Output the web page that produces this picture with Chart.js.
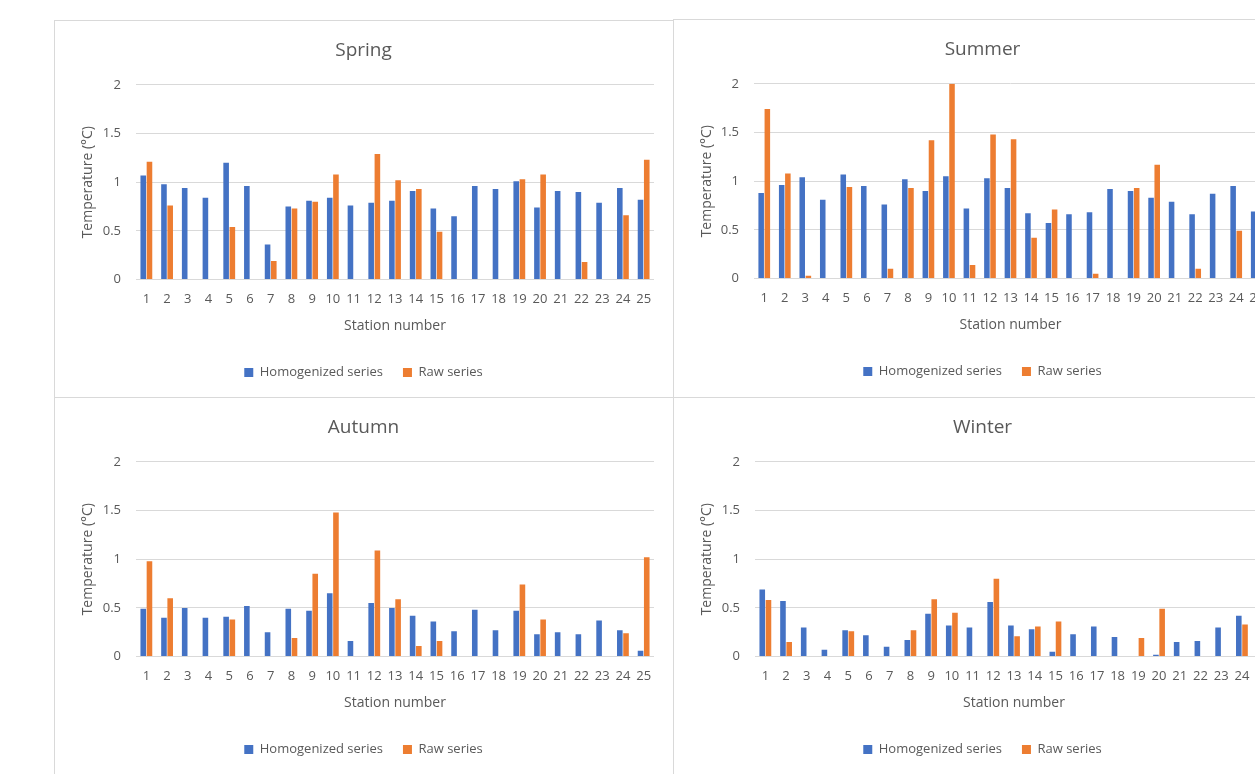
<!DOCTYPE html>
<html>
<head>
<meta charset="utf-8">
<script src="https://cdn.jsdelivr.net/npm/chart.js@4"></script>
<style>
  html, body { margin: 0; padding: 0; background: #fff; }
  body { width: 1255px; height: 774px; overflow: hidden; position: relative; }
  .panel { position: absolute; width: 619px; height: 377px; border: 1px solid #d9d9d9; background: #fff; }
  .panel canvas { display: block; }
</style>
</head>
<body>
<div class="panel" style="left:54px; top:20px;"><canvas id="spring-chart" width="617" height="375"></canvas></div>
<div class="panel" style="left:673px; top:19px;"><canvas id="summer-chart" width="617" height="375"></canvas></div>
<div class="panel" style="left:54px; top:397px;"><canvas id="autumn-chart" width="617" height="375"></canvas></div>
<div class="panel" style="left:673px; top:397px;"><canvas id="winter-chart" width="617" height="375"></canvas></div>
<script>
// Station labels and y ticks
let stations = ["1","2","3","4","5","6","7","8","9","10","11","12","13","14","15","16","17","18","19","20","21","22","23","24","25"];
let yTicks = [0, 0.5, 1, 1.5, 2];

// Spring
let springHomog = [1.07,0.98,0.94,0.84,1.20,0.96,0.36,0.75,0.81,0.84,0.76,0.79,0.81,0.91,0.73,0.65,0.96,0.93,1.01,0.74,0.91,0.90,0.79,0.94,0.82];
let springRaw   = [1.21,0.76,0,0,0.54,0,0.19,0.73,0.80,1.08,0,1.29,1.02,0.93,0.49,0,0,0,1.03,1.08,0,0.18,0,0.66,1.23];

// Summer
let summerHomog = [0.88,0.96,1.04,0.81,1.07,0.95,0.76,1.02,0.90,1.05,0.72,1.03,0.93,0.67,0.57,0.66,0.68,0.92,0.90,0.83,0.79,0.66,0.87,0.95,0.69];
let summerRaw   = [1.74,1.08,0.03,0,0.94,0,0.10,0.93,1.42,2.00,0.14,1.48,1.43,0.42,0.71,0,0.05,0,0.93,1.17,0,0.10,0,0.49,0.60];

// Autumn
let autumnHomog = [0.49,0.40,0.50,0.40,0.41,0.52,0.25,0.49,0.47,0.65,0.16,0.55,0.50,0.42,0.36,0.26,0.48,0.27,0.47,0.23,0.25,0.23,0.37,0.27,0.06];
let autumnRaw   = [0.98,0.60,0,0,0.38,0,0,0.19,0.85,1.48,0,1.09,0.59,0.11,0.16,0,0,0,0.74,0.38,0,0,0,0.24,1.02];

// Winter
let winterHomog = [0.69,0.57,0.30,0.07,0.27,0.22,0.10,0.17,0.44,0.32,0.30,0.56,0.32,0.28,0.05,0.23,0.31,0.20,0,0.02,0.15,0.16,0.30,0.42,0.30];
let winterRaw   = [0.58,0.15,0,0,0.26,0,0,0.27,0.59,0.45,0,0.80,0.21,0.31,0.36,0,0,0,0.19,0.49,0,0,0,0.33,0.25];

let homogColor = "#4472C4";
let rawColor = "#ED7D31";
let textColor = "#595959";
let gridColor = "#d9d9d9";
let fontFamily = "'Open Sans', sans-serif";

const seasonChart = (canvasId, title, homog, raw, yAxisWidth, rightGapWidth) => {
  new Chart(document.getElementById(canvasId), {
    type: "bar",
    data: {
      labels: stations,
      datasets: [
        { label: "Homogenized series", data: homog, backgroundColor: homogColor },
        { label: "Raw series", data: raw, backgroundColor: rawColor }
      ]
    },
    options: {
      responsive: false,
      animation: false,
      categoryPercentage: 0.6,
      barPercentage: 0.9,
      layout: { padding: { bottom: 7 } },
      scales: {
        x: {
          grid: { display: false },
          border: { display: false },
          ticks: { autoSkip: false, maxRotation: 0, color: textColor, padding: 4, font: { family: fontFamily, size: 13 } },
          title: { display: true, text: "Station number", color: textColor, padding: { top: 6, bottom: 12 }, font: { family: fontFamily, size: 14 } }
        },
        y: {
          min: 0,
          max: 2,
          afterBuildTicks: (scale) => { scale.ticks = yTicks.map(v => ({ value: v })); },
          afterFit: (scale) => { scale.width = yAxisWidth; },
          grid: { color: gridColor, drawTicks: false },
          border: { display: false },
          ticks: { color: textColor, padding: 15, font: { family: fontFamily, size: 13 }, callback: (v) => String(v) },
          title: { display: true, text: "Temperature (°C)", color: textColor, padding: 25, font: { family: fontFamily, size: 14 } }
        },
        // empty right-hand margin, so title and legend stay centred on the whole panel
        rightGap: {
          position: "right",
          min: 0,
          max: 1,
          afterFit: (scale) => { scale.width = rightGapWidth; },
          grid: { display: false },
          border: { display: false },
          ticks: { display: false }
        }
      },
      plugins: {
        title: { display: true, text: title, color: textColor, padding: { top: 18, bottom: 23 }, font: { family: fontFamily, size: 19, weight: "normal" } },
        legend: {
          position: "bottom",
          labels: { color: textColor, boxWidth: 9, boxHeight: 9, padding: 20, font: { family: fontFamily, size: 13 } }
        },
        tooltip: { enabled: false }
      }
    }
  });
};

seasonChart("spring-chart", "Spring", springHomog, springRaw, 81, 18);
seasonChart("summer-chart", "Summer", summerHomog, summerRaw, 80, 24);
seasonChart("autumn-chart", "Autumn", autumnHomog, autumnRaw, 81, 18);
seasonChart("winter-chart", "Winter", winterHomog, winterRaw, 81, 18);
</script>
</body>
</html>
